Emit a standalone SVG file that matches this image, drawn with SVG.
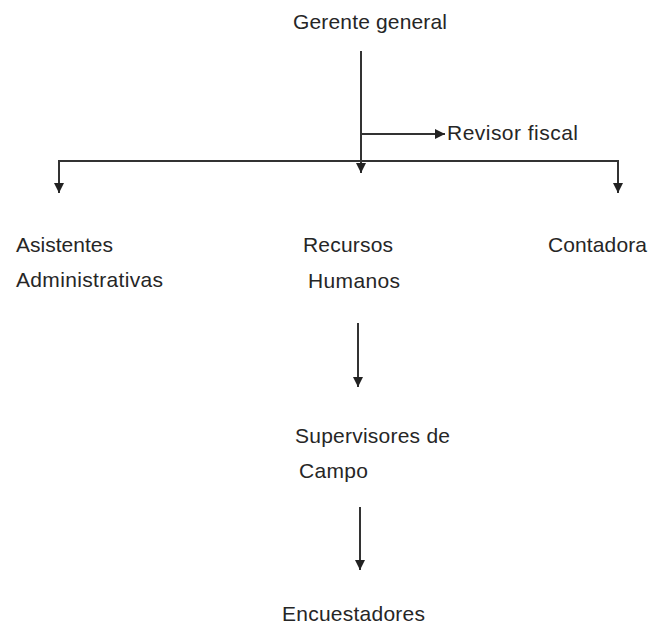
<svg xmlns="http://www.w3.org/2000/svg" width="649" height="629" viewBox="0 0 649 629">
<style>
text{font-family:"Liberation Sans",Arial,sans-serif;font-size:21px;fill:#262626}
.c{stroke:#333;stroke-width:2;fill:none}
</style>
<defs>
<marker id="a" viewBox="0 0 10 10" refX="10" refY="5" markerWidth="5" markerHeight="5" orient="auto" markerUnits="strokeWidth"><path d="M0,0 L10,5 L0,10 z" fill="#222"/></marker>
</defs>
<rect width="649" height="629" fill="#fff"/>
<g id="connectors">
<path class="c" d="M361,51 V173" marker-end="url(#a)"/>
<path class="c" d="M361,134 H445" marker-end="url(#a)"/>
<path class="c" d="M59,193 V161 H618 V193"/>
<path class="c" d="M59,161 V193" marker-end="url(#a)"/>
<path class="c" d="M618,161 V193" marker-end="url(#a)"/>
<path class="c" d="M358,323 V387" marker-end="url(#a)"/>
<path class="c" d="M360,507 V570" marker-end="url(#a)"/>
</g>
<g id="gerente"><text x="293" y="29" textLength="154">Gerente general</text></g>
<g id="revisor"><text x="447" y="140" textLength="131">Revisor fiscal</text></g>
<g id="asistentes"><text x="16" y="252" textLength="97">Asistentes</text><text x="16" y="287" textLength="147">Administrativas</text></g>
<g id="recursos"><text x="303" y="252" textLength="90">Recursos</text><text x="308" y="288" textLength="92">Humanos</text></g>
<g id="contadora"><text x="548" y="252" textLength="99">Contadora</text></g>
<g id="supervisores"><text x="295" y="443" textLength="155">Supervisores de</text><text x="299" y="478" textLength="69">Campo</text></g>
<g id="encuestadores"><text x="282" y="621" textLength="143">Encuestadores</text></g>
</svg>
